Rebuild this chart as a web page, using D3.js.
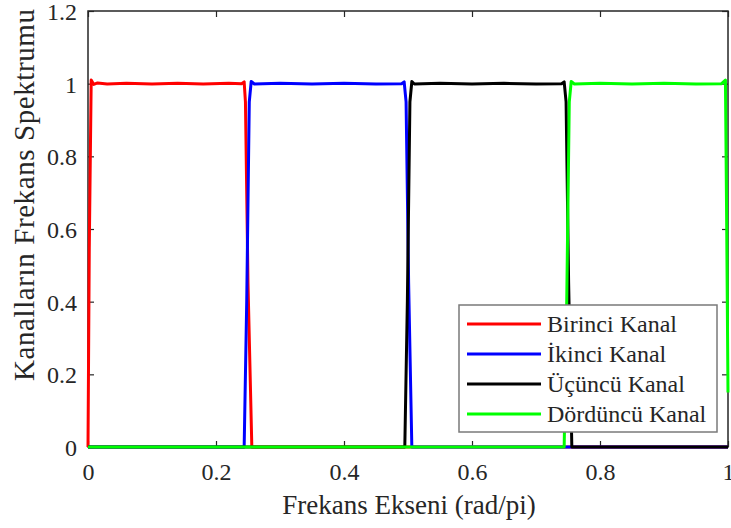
<!DOCTYPE html>
<html><head><meta charset="utf-8">
<script src="https://cdn.jsdelivr.net/npm/d3@7"></script>
<style>
html,body{margin:0;padding:0;background:#fff;}
svg{display:block;}
text{font-family:"Liberation Serif","Times New Roman",serif;fill:#262626;}
</style></head>
<body>
<svg id="chart" width="731" height="528"></svg>
<script>
const xTicks = [0, 0.2, 0.4, 0.6, 0.8, 1];
const yTicks = [0, 0.2, 0.4, 0.6, 0.8, 1, 1.2];
const channelNames = ["Birinci Kanal", "İkinci Kanal", "Üçüncü Kanal", "Dördüncü Kanal"];
const xLabel = "Frekans Ekseni (rad/pi)";
const yLabel = "Kanalların Frekans Spektrumu";

const ch1Freq = [0, 0.002, 0.005, 0.009, 0.015, 0.03, 0.06, 0.1, 0.14, 0.18, 0.22, 0.24, 0.244, 0.246, 0.25, 0.256, 0.3, 1];
const ch1Mag  = [0, 0.55, 1.01, 0.998, 1.002, 0.999, 1.001, 0.999, 1.001, 0.999, 1.001, 1.0, 1.005, 0.95, 0.45, 0, 0, 0];

const ch2Freq = [0, 0.244, 0.248, 0.252, 0.255, 0.26, 0.3, 0.35, 0.4, 0.45, 0.49, 0.494, 0.497, 0.501, 0.506, 0.55, 1];
const ch2Mag  = [0, 0, 0.4, 0.95, 1.006, 0.999, 1.001, 0.999, 1.001, 0.999, 1.0, 1.005, 0.95, 0.45, 0, 0, 0];

const ch3Freq = [0, 0.495, 0.499, 0.503, 0.506, 0.51, 0.55, 0.6, 0.65, 0.7, 0.74, 0.744, 0.747, 0.751, 0.756, 0.8, 1];
const ch3Mag  = [0, 0, 0.4, 0.95, 1.006, 0.999, 1.001, 0.999, 1.001, 0.999, 1.0, 1.005, 0.95, 0.45, 0, 0, 0];

const ch4Freq = [0, 0.744, 0.748, 0.752, 0.755, 0.76, 0.8, 0.85, 0.9, 0.95, 0.99, 0.996, 0.998, 1.0];
const ch4Mag  = [0, 0, 0.4, 0.95, 1.006, 0.999, 1.001, 0.999, 1.001, 0.999, 1.0, 1.01, 0.6, 0.15];

const lineColors = ["#ff0000", "#0000ff", "#000000", "#00ff00"];

const series = [
  {name: channelNames[0], f: ch1Freq, m: ch1Mag},
  {name: channelNames[1], f: ch2Freq, m: ch2Mag},
  {name: channelNames[2], f: ch3Freq, m: ch3Mag},
  {name: channelNames[3], f: ch4Freq, m: ch4Mag}
];

const FONT = '"Liberation Serif","Times New Roman",serif';
const svg = d3.select("#chart");
const L = 88, R = 728, T = 11, B = 447;
const x = d3.scaleLinear().domain([0, 1]).range([L, R]);
const y = d3.scaleLinear().domain([0, 1.2]).range([B, T]);
const axisColor = "#262626";
const tickLen = 6;

const axG = svg.append("g");
axG.append("rect").attr("x", L).attr("y", T).attr("width", R - L).attr("height", B - T)
  .attr("fill", "none").attr("stroke", axisColor).attr("stroke-width", 1.5);

const xb = d3.axisBottom(x).tickValues(xTicks).tickSize(-tickLen).tickFormat(d => d3.format("")(d));
const xt = d3.axisTop(x).tickValues(xTicks).tickSize(-tickLen).tickFormat("");
const yl = d3.axisLeft(y).tickValues(yTicks).tickSize(-tickLen).tickFormat(d => d3.format("")(d));
const yr = d3.axisRight(y).tickValues(yTicks).tickSize(-tickLen).tickFormat("");

function styleAxis(g) {
  g.attr("font-family", FONT).attr("font-size", 24);
  g.select(".domain").remove();
  g.selectAll(".tick line").attr("stroke", axisColor).attr("stroke-width", 1.2);
  g.selectAll(".tick text").attr("fill", axisColor).style("font-family", FONT).style("font-size", "24px");
}
const gxb = axG.append("g").attr("transform", `translate(0,${B})`).call(xb).call(styleAxis);
gxb.selectAll(".tick text").attr("y", 0).attr("dy", 0).attr("transform", "translate(0,33)");
axG.append("g").attr("transform", `translate(0,${T})`).call(xt).call(styleAxis);
const gyl = axG.append("g").attr("transform", `translate(${L},0)`).call(yl).call(styleAxis);
gyl.selectAll(".tick text").attr("x", -11).attr("dy", "0.35em");
axG.append("g").attr("transform", `translate(${R},0)`).call(yr).call(styleAxis);

svg.append("defs").append("clipPath").attr("id", "clip")
  .append("rect").attr("x", L - 2).attr("y", T).attr("width", R - L + 4).attr("height", B - T + 3);

const line = d3.line().x(d => x(d[0])).y(d => y(d[1]));
const dataG = svg.append("g").attr("clip-path", "url(#clip)");
series.forEach((s, i) => {
  const pts = s.f.map((fv, k) => [fv, s.m[k]]);
  dataG.append("path").datum(pts).attr("d", line)
    .attr("fill", "none").attr("stroke", lineColors[i]).attr("stroke-width", 3)
    .attr("stroke-linejoin", "round").attr("stroke-linecap", "butt");
});

svg.append("text").attr("x", (L + R) / 2 + 1).attr("y", 514).attr("text-anchor", "middle")
  .style("font-family", FONT).style("font-size", "27px").text(xLabel);
svg.append("text").attr("transform", "translate(34,195) rotate(-90)").attr("text-anchor", "middle")
  .style("font-family", FONT).style("font-size", "29px")
  .attr("textLength", 372).attr("lengthAdjust", "spacing").text(yLabel);

const lg = svg.append("g");
lg.append("rect").attr("x", 459).attr("y", 305).attr("width", 258).attr("height", 127)
  .attr("fill", "#fff").attr("stroke", "#7a7a7a").attr("stroke-width", 1.5);
series.forEach((s, i) => {
  const yy = 324 + i * 30;
  lg.append("line").attr("x1", 467).attr("x2", 541).attr("y1", yy).attr("y2", yy)
    .attr("stroke", lineColors[i]).attr("stroke-width", 3);
  lg.append("text").attr("x", 547).attr("y", yy).attr("dy", "0.35em")
    .style("font-family", FONT).style("font-size", "24px").text(s.name);
});
</script>
</body></html>
